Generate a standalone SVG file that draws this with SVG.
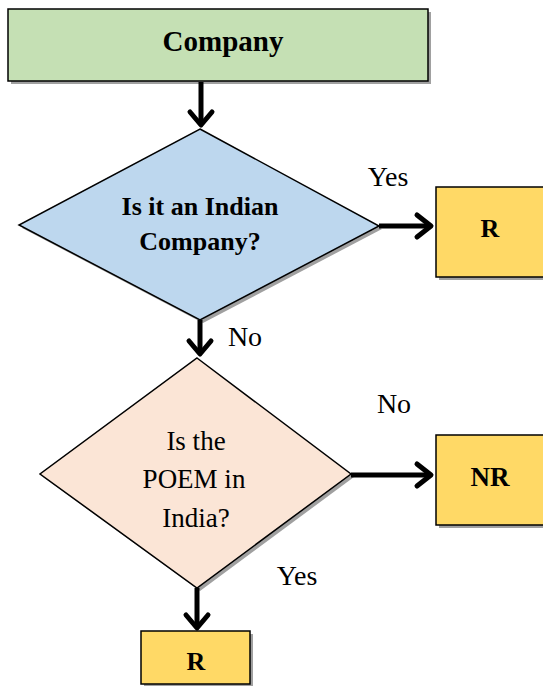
<svg xmlns="http://www.w3.org/2000/svg" width="543" height="686" viewBox="0 0 543 686">
<defs>
<style>
.box{stroke:#000;stroke-width:1.5}
.sh{fill:#a0a0a0}
.t{font-family:"Liberation Serif",serif;fill:#000;text-anchor:middle}
.b{font-weight:bold}
.c{stroke:#000;stroke-width:5;fill:none}
.h{stroke:#000;stroke-width:5;fill:none;stroke-linecap:round;stroke-linejoin:round}
</style>
</defs>
<rect width="543" height="686" fill="#fff"/>
<g id="company">
<rect class="sh" x="11" y="12" width="420" height="72"/>
<rect class="box" x="8" y="9" width="420" height="72" fill="#C5E0B4"/>
<text class="t b" x="223" y="51" font-size="29">Company</text>
</g>
<g id="q1">
<polygon class="sh" points="203,132 382,229 203,323 22,228"/>
<polygon class="box" points="200,129 379,226 200,320 19,225" fill="#BDD7EE"/>
<text class="t b" x="200" y="215" font-size="26">Is it an Indian</text>
<text class="t b" x="200" y="250" font-size="26">Company?</text>
</g>
<g id="r1">
<rect class="sh" x="439" y="190" width="110" height="90"/>
<rect class="box" x="436" y="187" width="110" height="90" fill="#FFD966"/>
<text class="t b" x="490" y="237" font-size="26">R</text>
</g>
<g id="q2">
<polygon class="sh" points="200,361 354,477 200,591 43,477"/>
<polygon class="box" points="197,358 351,474 197,588 40,474" fill="#FBE5D6"/>
<text class="t" x="196" y="450" font-size="27">Is the</text>
<text class="t" x="194" y="488" font-size="27">POEM in</text>
<text class="t" x="196" y="527" font-size="27">India?</text>
</g>
<g id="nr">
<rect class="sh" x="439" y="438" width="110" height="90"/>
<rect class="box" x="436" y="435" width="110" height="90" fill="#FFD966"/>
<text class="t b" x="490" y="486" font-size="27">NR</text>
</g>
<g id="r2">
<rect class="sh" x="144" y="634" width="109" height="53"/>
<rect class="box" x="141" y="631" width="109" height="53" fill="#FFD966"/>
<text class="t b" x="196" y="670" font-size="26">R</text>
</g>
<g id="connectors">
<line class="c" x1="201" y1="82" x2="201" y2="124"/>
<polyline class="h" points="190,112 201,125 212,112"/>
<line class="c" x1="379" y1="226" x2="431" y2="226"/>
<polyline class="h" points="417,215 431,226 417,237"/>
<line class="c" x1="200" y1="320" x2="200" y2="353"/>
<polyline class="h" points="189,341 200,354 211,341"/>
<line class="c" x1="351" y1="475" x2="431" y2="475"/>
<polyline class="h" points="417,464 431,475 417,486"/>
<line class="c" x1="197" y1="588" x2="197" y2="627"/>
<polyline class="h" points="186,615 197,628 208,615"/>
</g>
<g id="labels">
<text class="t" x="388" y="186" font-size="28">Yes</text>
<text class="t" x="245" y="346" font-size="28">No</text>
<text class="t" x="394" y="413" font-size="28">No</text>
<text class="t" x="297" y="585" font-size="28">Yes</text>
</g>
</svg>
